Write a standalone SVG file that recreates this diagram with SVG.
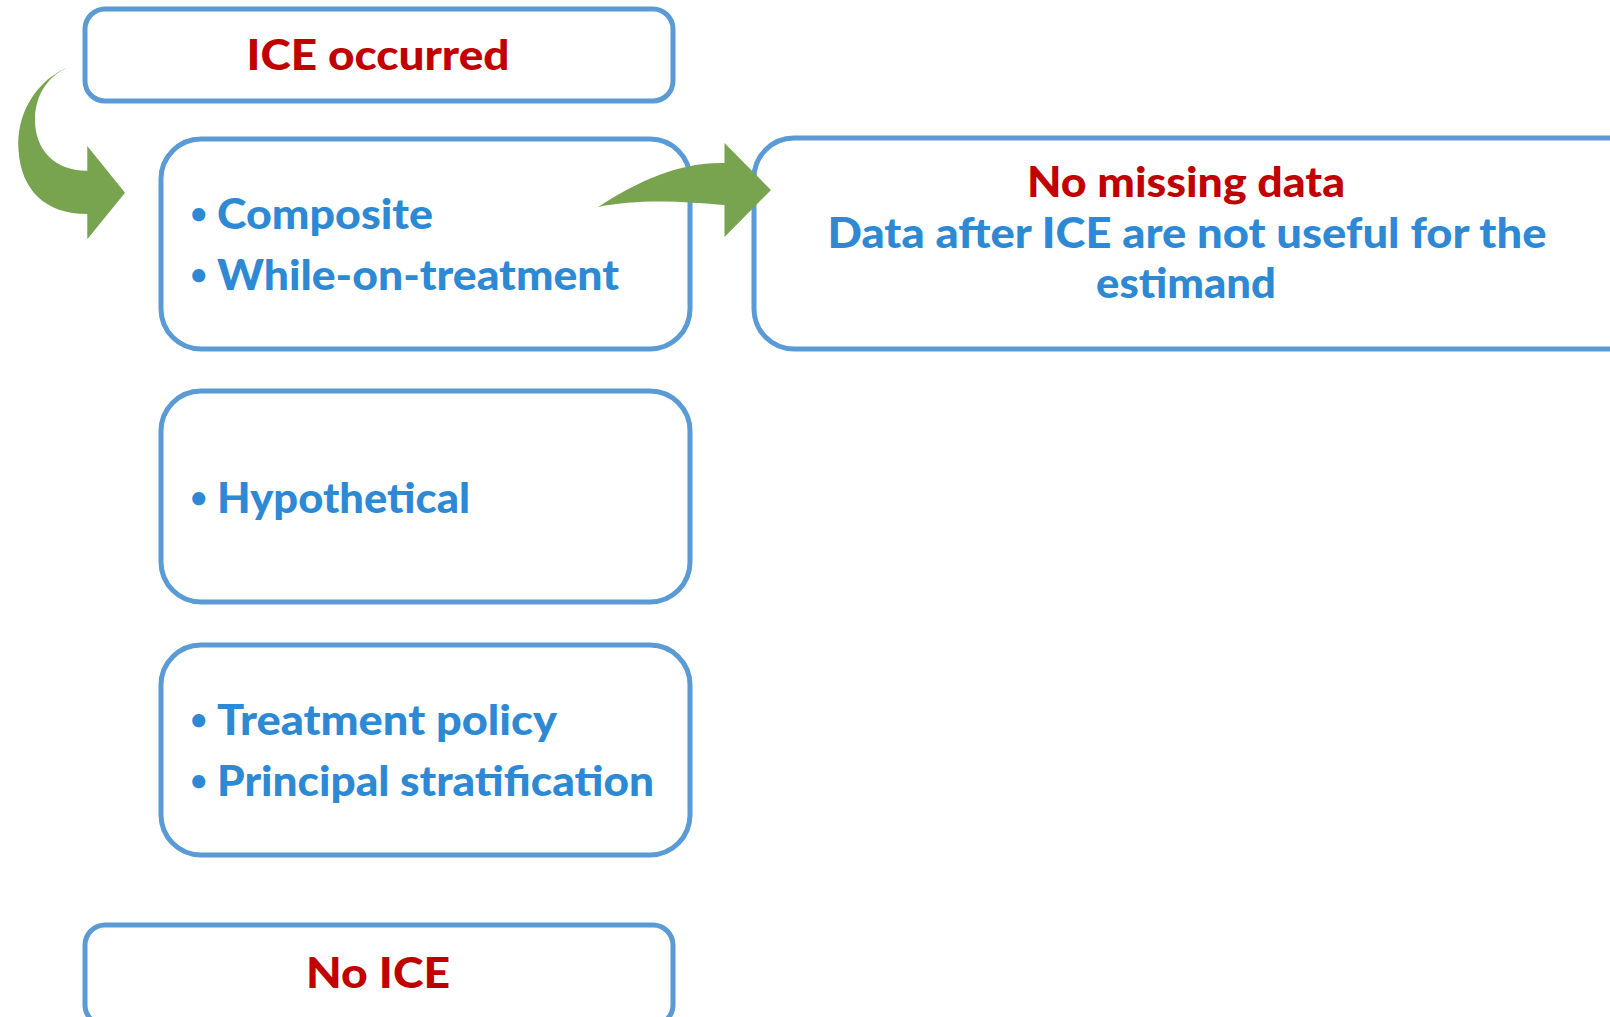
<svg xmlns="http://www.w3.org/2000/svg" width="1610" height="1017" viewBox="0 0 1610 1017">
  <style>
    .box { fill: #ffffff; stroke: #5b9bd5; stroke-width: 5; }
    .red { fill: #c00000; font-family: Lato, "Open Sans", "Liberation Sans", sans-serif; font-weight: 900; font-size: 42px; }
    .blue { fill: #2e89d5; font-family: Lato, "Open Sans", "Liberation Sans", sans-serif; font-weight: 900; font-size: 42px; }
    .bul { fill: #2e89d5; font-family: Lato, "Open Sans", "Liberation Sans", sans-serif; font-weight: bold; font-size: 30px; }
    .arrow { fill: #78a34f; }
  </style>
  <rect width="1610" height="1017" fill="#ffffff"/>

  <g id="ice-occurred">
    <rect class="box" x="85" y="9" width="588" height="92" rx="20"/>
    <text class="red" x="378" y="70" text-anchor="middle" textLength="263" lengthAdjust="spacingAndGlyphs">ICE occurred</text>
  </g>

  <g id="composite-box">
    <rect class="box" x="161" y="139" width="529" height="210" rx="40"/>
    <text class="bul" x="190" y="224">•</text>
    <text class="blue" x="217" y="229" textLength="216" lengthAdjust="spacingAndGlyphs">Composite</text>
    <text class="bul" x="190" y="285">•</text>
    <text class="blue" x="217" y="290" textLength="402" lengthAdjust="spacingAndGlyphs">While-on-treatment</text>
  </g>

  <g id="hypothetical-box">
    <rect class="box" x="161" y="391" width="529" height="211" rx="40"/>
    <text class="bul" x="190" y="508">•</text>
    <text class="blue" x="217" y="513" textLength="253" lengthAdjust="spacingAndGlyphs">Hypothetical</text>
  </g>

  <g id="policy-box">
    <rect class="box" x="161" y="645" width="529" height="210" rx="40"/>
    <text class="bul" x="190" y="730">•</text>
    <text class="blue" x="217" y="735" textLength="340" lengthAdjust="spacingAndGlyphs">Treatment policy</text>
    <text class="bul" x="190" y="791">•</text>
    <text class="blue" x="217" y="796" textLength="437" lengthAdjust="spacingAndGlyphs">Principal stratification</text>
  </g>

  <g id="no-missing-box">
    <rect class="box" x="754" y="138" width="900" height="211" rx="40"/>
    <text class="red" x="1186" y="197" text-anchor="middle" textLength="318" lengthAdjust="spacingAndGlyphs">No missing data</text>
    <text class="blue" x="1187" y="248" text-anchor="middle" textLength="719" lengthAdjust="spacingAndGlyphs">Data after ICE are not useful for the</text>
    <text class="blue" x="1186" y="298" text-anchor="middle" textLength="180" lengthAdjust="spacingAndGlyphs">estimand</text>
  </g>

  <g id="no-ice">
    <rect class="box" x="85" y="925" width="588" height="100" rx="20"/>
    <text class="red" x="378" y="988" text-anchor="middle" textLength="144" lengthAdjust="spacingAndGlyphs">No ICE</text>
  </g>

  <g id="connectors">
    <path class="arrow" d="M 70.7,66 C 35,80 16,115 18.5,150 C 21,190 45,214 87.3,214 L 87.3,239.3 L 125,192.7 L 87.3,146 L 87.3,170.7 C 55,171 35,150 35,120 C 35,95 48,75 70.7,66 Z"/>
    <path class="arrow" d="M 598,207 C 640,198 690,202 724.5,205 L 724.5,237 L 771,190 L 724.5,143 L 724.5,163 C 680,162 640,180 598,207 Z"/>
  </g>
</svg>
